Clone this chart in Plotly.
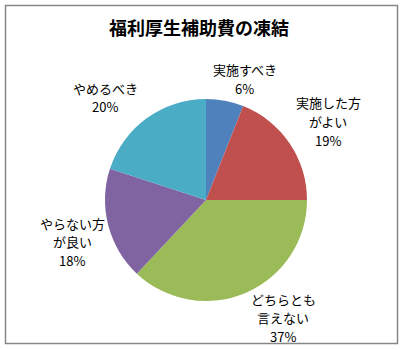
import plotly.graph_objects as go

# Survey responses on freezing the welfare subsidy
categories = ["実施すべき", "実施した方|がよい", "どちらとも|言えない", "やらない方|が良い", "やめるべき"]
shares = [6, 19, 37, 18, 20]
colors = ["#4F81BD", "#C0504D", "#9BBB59", "#8064A2", "#4BACC6"]

W, H = 403, 350

# Label block placement in pixels: horizontal centre and first-line centre
label_cx = [245, 328, 283, 72, 105]
label_top = [70, 103, 299, 223, 88]
LINE_H = 18.5

font_jp = "Noto Sans CJK JP, MS Gothic, sans-serif"

fig = go.Figure(go.Pie(
    labels=[c.replace("|", "") for c in categories],
    values=shares,
    sort=False,
    direction="clockwise",
    rotation=0,
    marker=dict(colors=colors, line=dict(width=0)),
    textinfo="none",
    hoverinfo="label+percent",
    showlegend=False,
    domain=dict(x=[105 / W, 307 / W], y=[1 - 301 / H, 1 - 99 / H]),
))

total = sum(shares)
for cat, v, cx, top in zip(categories, shares, label_cx, label_top):
    lines = cat.split("|") + [f"{round(v / total * 100)}%"]
    for i, line in enumerate(lines):
        fig.add_annotation(
            x=cx / W, y=1 - (top + i * LINE_H) / H, xref="paper", yref="paper",
            xanchor="center", yanchor="middle",
            text=line, showarrow=False,
            font=dict(family=font_jp, size=13, color="#000000"),
        )

fig.add_annotation(
    x=199 / W, y=1 - 27.5 / H, xref="paper", yref="paper",
    xanchor="center", yanchor="middle",
    text="<b>福利厚生補助費の凍結</b>", showarrow=False,
    font=dict(family=font_jp, size=18, color="#000000"),
)

# Chart frame
fig.add_shape(type="rect", xref="paper", yref="paper",
              x0=5.5 / W, x1=397.5 / W, y0=1 - 343.5 / H, y1=1 - 5.5 / H,
              line=dict(color="#868686", width=1.5), fillcolor="rgba(0,0,0,0)")

fig.update_layout(
    width=W, height=H,
    margin=dict(l=0, r=0, t=0, b=0),
    paper_bgcolor="white", plot_bgcolor="white",
)

fig.write_html("out.html")
